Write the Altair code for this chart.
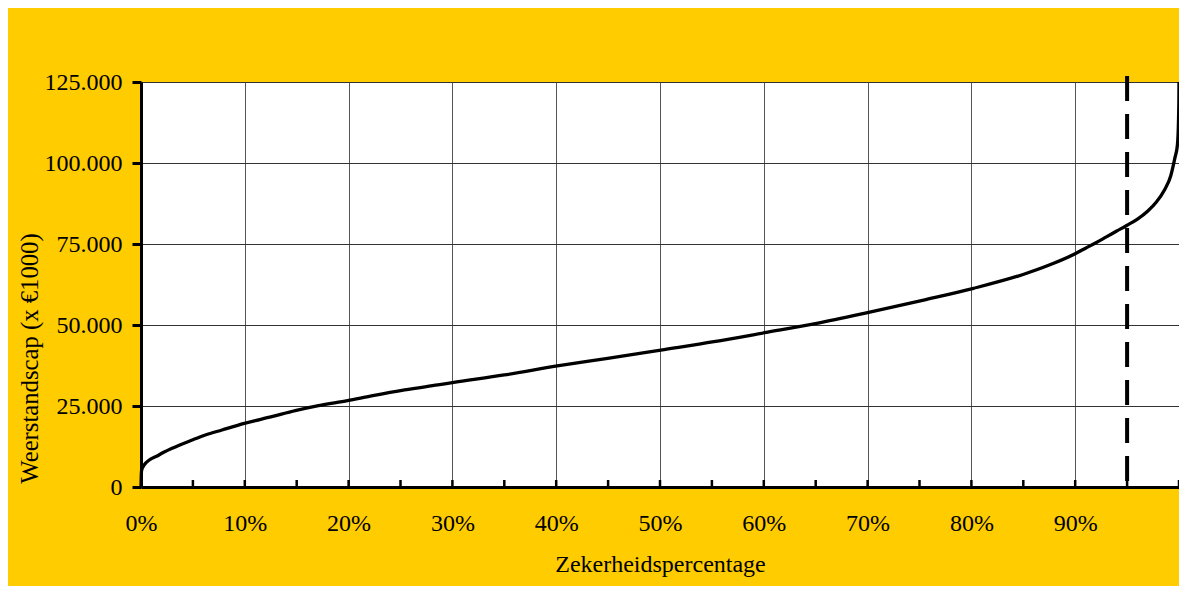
import altair as alt
import pandas as pd

# Curve (fraction of certainty, value in euro x 1000)
pct = [0, 0.0005, 0.003, 0.0173, 0.03, 0.0493, 0.062, 0.078, 0.0996, 0.126,
       0.1486, 0.171, 0.199, 0.222, 0.254, 0.286, 0.30, 0.35, 0.401, 0.4496,
       0.5008, 0.552, 0.601, 0.651, 0.701, 0.754, 0.802, 0.8498, 0.875, 0.90,
       0.91, 0.92, 0.93, 0.94, 0.95, 0.96, 0.97, 0.978, 0.986, 0.992,
       0.996, 0.9985, 0.9995, 0.9999, 1.0]
value = [0, 5000, 6790, 9880, 11940, 14500, 16050, 17600, 19650, 21700,
         23560, 25100, 26650, 28090, 29940, 31500, 32200, 34570, 37350, 39710,
         42280, 44850, 47630, 50510, 53910, 57710, 61320, 65600, 68500, 72000,
         73700, 75400, 77200, 79000, 80800, 82700, 85200, 87900, 91700, 96000,
         101500, 105640, 112860, 120000, 125000]

x_label_values = [0, 0.1, 0.2, 0.3, 0.4, 0.5, 0.6, 0.7, 0.8, 0.9]
x_minor_ticks = [0.05, 0.1, 0.15, 0.2, 0.25, 0.3, 0.35, 0.4, 0.45, 0.5,
                 0.55, 0.6, 0.65, 0.7, 0.75, 0.8, 0.85, 0.9, 0.95, 1.0]
y_tick_values = [0, 25000, 50000, 75000, 100000, 125000]
marker_pct = [0.95]

W, H = 1038, 405
FONT = "Liberation Serif"

df = pd.DataFrame({"x": pct, "y": value})

curve = alt.Chart(df).mark_line(color="black", strokeWidth=3.3, interpolate="monotone", clip=False).encode(
    x=alt.X("x:Q",
            scale=alt.Scale(domain=[0, 1], nice=False, zero=False),
            axis=alt.Axis(values=x_label_values, format=".0%", grid=True,
                          gridColor="#555555", gridWidth=1, ticks=False, tickSize=0,
                          domain=True, domainColor="black", domainWidth=3,
                          labelFont=FONT, labelFontSize=24, labelColor="black",
                          labelBaseline="alphabetic", labelPadding=43,
                          labelFlush=False, labelOverlap=False,
                          title="Zekerheidspercentage", titleFont=FONT,
                          titleFontSize=24, titleFontWeight="normal",
                          titleColor="black", titleBaseline="alphabetic",
                          titleX=W / 2, titleY=84)),
    y=alt.Y("y:Q",
            scale=alt.Scale(domain=[0, 125000], nice=False),
            axis=alt.Axis(values=y_tick_values,
                          labelExpr="replace(format(datum.value, ','), ',', '.')",
                          grid=True, gridColor="#333333", gridWidth=1,
                          ticks=True, tickSize=9, tickWidth=3, tickColor="black",
                          domain=True, domainColor="black", domainWidth=3,
                          labelFont=FONT, labelFontSize=24, labelColor="black",
                          labelPadding=10, labelFlush=False, labelOverlap=False,
                          title="Weerstandscap (x €1000)", titleFont=FONT,
                          titleFontSize=24.7, titleFontWeight="normal",
                          titleColor="black", titleAngle=270, titleAlign="center",
                          titleBaseline="alphabetic", titleX=-104, titleY=276)),
)

ticks = alt.Chart(pd.DataFrame({"x": x_minor_ticks})).mark_rule(
    color="black", strokeWidth=2.5).encode(
    x="x:Q", y=alt.value(H), y2=alt.value(H - 7))

marker = alt.Chart(pd.DataFrame({"x": marker_pct})).mark_rule(
    color="black", strokeWidth=4, strokeDash=[25, 13]).encode(
    x="x:Q", y=alt.value(-6), y2=alt.value(H + 3))

chart = alt.layer(curve, ticks, marker).properties(
    width=W, height=H, background="#FFCC00",
    padding={"left": 133, "top": 74, "right": 0, "bottom": 99},
    autosize=alt.AutoSizeParams(type="none"),
).configure_view(stroke="#999999", strokeWidth=1, fill="white")

chart.save("out.html", embed_options={"renderer": "svg", "actions": False})
